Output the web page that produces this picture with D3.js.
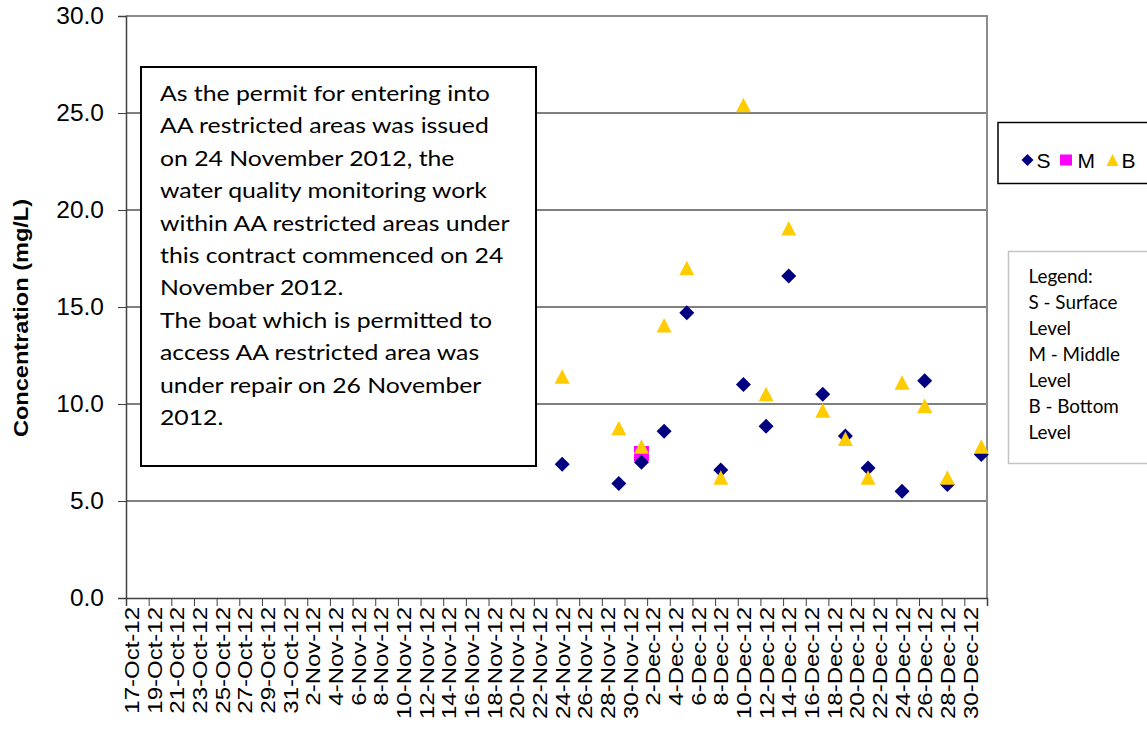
<!DOCTYPE html>
<html><head><meta charset="utf-8">
<script src="https://cdn.jsdelivr.net/npm/d3@7"></script>
<style>body{margin:0;background:#fff}svg{display:block}</style>
</head><body>
<svg id="c" width="1147" height="729"></svg>
<script>
// ---- data ----
const sampleDates = ["2012-11-24","2012-11-29","2012-12-01","2012-12-03","2012-12-05","2012-12-08","2012-12-10","2012-12-12","2012-12-14","2012-12-17","2012-12-19","2012-12-21","2012-12-24","2012-12-26","2012-12-28","2012-12-31"];
const surface = [6.9, 5.9, 7.0, 8.6, 14.7, 6.6, 11.0, 8.85, 16.6, 10.5, 8.35, 6.7, 5.5, 11.2, 5.85, 7.4];
const middle  = [null, null, 7.45, null, null, null, null, null, null, null, null, null, null, null, null, null];
const bottom  = [11.4, 8.75, 7.8, 14.05, 17.0, 6.2, 25.4, 10.5, 19.05, 9.65, 8.2, 6.2, 11.1, 9.9, 6.2, 7.8];
const xTickLabels = ["17-Oct-12","19-Oct-12","21-Oct-12","23-Oct-12","25-Oct-12","27-Oct-12","29-Oct-12","31-Oct-12","2-Nov-12","4-Nov-12","6-Nov-12","8-Nov-12","10-Nov-12","12-Nov-12","14-Nov-12","16-Nov-12","18-Nov-12","20-Nov-12","22-Nov-12","24-Nov-12","26-Nov-12","28-Nov-12","30-Nov-12","2-Dec-12","4-Dec-12","6-Dec-12","8-Dec-12","10-Dec-12","12-Dec-12","14-Dec-12","16-Dec-12","18-Dec-12","20-Dec-12","22-Dec-12","24-Dec-12","26-Dec-12","28-Dec-12","30-Dec-12",""];
const yTicks = [0, 5, 10, 15, 20, 25, 30];
const seriesNames = ["S", "M", "B"];
const seriesColors = {S: "#000080", M: "#FF00FF", B: "#FFCC00"};
const noteLines = ["As the permit for entering into","AA restricted areas was issued","on 24 November 2012, the","water quality monitoring work","within AA restricted areas under","this contract commenced on 24","November 2012.","The boat which is permitted to","access AA restricted area was","under repair on 26 November","2012."];
const legendNoteLines = ["Legend:","S - Surface","Level","M - Middle","Level","B - Bottom","Level"];

// ---- layout ----
const svg = d3.select("#c");
const L = 126, R = 987, T = 16, B = 598;
const parse = d3.timeParse("%Y-%m-%d");
const x = d3.scaleTime().domain([parse("2012-10-17"), parse("2013-01-01")]).range([L, R]);
const y = d3.scaleLinear().domain([0, 30]).range([B, T]);
const halfDay = (x(parse("2012-10-18")) - x(parse("2012-10-17"))) / 2;
const mid = d => d3.timeHour.offset(parse(d), 12);
const tickDates = d3.timeDay.range(parse("2012-10-17"), d3.timeDay.offset(parse("2013-01-01"), 1), 2);

// gridlines
svg.append("g").selectAll("line").data(yTicks.filter(v => v > 0 && v < 30)).join("line")
  .attr("x1", L).attr("x2", R).attr("y1", d => y(d)).attr("y2", d => y(d))
  .attr("stroke", "#000").attr("stroke-width", 1);
// plot border top/right
svg.append("path").attr("d", `M${L},${y(30)}H${R}V${B}`).attr("fill", "none")
  .attr("stroke", "#8c8c8c").attr("stroke-width", 2);

// y axis
const yAxis = svg.append("g").attr("transform", `translate(${L},0)`)
  .call(d3.axisLeft(y).tickValues(yTicks).tickFormat(d3.format(".1f")).tickSize(8).tickPadding(14));
yAxis.select(".domain").attr("stroke", "#404040").attr("stroke-width", 1.5);
yAxis.selectAll(".tick line").attr("stroke", "#404040");
yAxis.selectAll("text").attr("font-family", "Liberation Sans, Arial, sans-serif").attr("font-size", 24.5).attr("fill", "#000");

// x axis
const xAxis = svg.append("g").attr("transform", `translate(0,${B})`)
  .call(d3.axisBottom(x).tickValues(tickDates).tickFormat((d, i) => xTickLabels[i] || "").tickSize(8));
xAxis.select(".domain").attr("stroke", "#404040").attr("stroke-width", 1.5);
xAxis.selectAll(".tick line").attr("stroke", "#404040");
xAxis.selectAll("text")
  .attr("font-family", "Liberation Sans, Arial, sans-serif").attr("font-size", 20).attr("fill", "#000")
  .attr("x", 0).attr("y", 0).attr("dy", 0).attr("text-anchor", "end")
  .attr("transform", `translate(${halfDay + 7},9) rotate(-90) scale(1.2,1)`);

// y title
svg.append("text").attr("transform", `translate(28,318) rotate(-90) scale(1.15,1)`)
  .attr("text-anchor", "middle").attr("font-family", "Liberation Sans, Arial, sans-serif")
  .attr("font-weight", "bold").attr("font-size", 20.5).text("Concentration (mg/L)");

// note box
svg.append("rect").attr("x", 141).attr("y", 67).attr("width", 395).attr("height", 399)
  .attr("fill", "#fff").attr("stroke", "#000").attr("stroke-width", 2);
const noteG = svg.append("g").attr("transform", "translate(160,0)");
const noteT = noteG.selectAll("text").data(noteLines).join("text")
  .attr("x", 0).attr("y", (d, i) => 101 + i * 32.4)
  .attr("font-family", "Lato, sans-serif").attr("font-size", 21.5).attr("fill", "#000").text(d => d);
const w0 = noteT.nodes()[0].getComputedTextLength();
noteG.attr("transform", `translate(160,0) scale(${330 / w0},1)`);

// markers
function drawSeries(name, vals, shape) {
  const pts = sampleDates.map((d, i) => ({d, v: vals[i]})).filter(p => p.v != null);
  svg.append("g").selectAll("path").data(pts).join("path")
    .attr("d", shape)
    .attr("transform", p => `translate(${x(mid(p.d))},${y(p.v)})`)
    .attr("fill", seriesColors[name]);
}
drawSeries("M", middle, "M-7.5,-7.5H7.5V7.5H-7.5Z");
drawSeries("S", surface, "M0,-7.5L7.5,0L0,7.5L-7.5,0Z");
drawSeries("B", bottom, "M0,-7.5L7.5,7L-7.5,7Z");

// legend 1
svg.append("rect").attr("x", 998).attr("y", 122.5).attr("width", 170).attr("height", 61)
  .attr("fill", "#fff").attr("stroke", "#000").attr("stroke-width", 1.5);
const leg = [{n: "S", mx: 1027.5, tx: 1036.5, shape: "M0,-6L6,0L0,6L-6,0Z"},
             {n: "M", mx: 1066, tx: 1077.5, shape: "M-6,-5.5H6V5.5H-6Z"},
             {n: "B", mx: 1112.5, tx: 1121.5, shape: "M0,-6L6,6L-6,6Z"}];
leg.forEach(l => {
  svg.append("path").attr("d", l.shape).attr("transform", `translate(${l.mx},160)`).attr("fill", seriesColors[l.n]);
  svg.append("text").attr("x", l.tx).attr("y", 167.5).attr("font-family", "Liberation Sans, Arial, sans-serif")
    .attr("font-size", 21).attr("fill", "#000").text(l.n);
});

// legend 2 (note)
svg.append("rect").attr("x", 1008.5).attr("y", 251.5).attr("width", 160).attr("height", 212)
  .attr("fill", "#fff").attr("stroke", "#c4c4c4").attr("stroke-width", 1.5);
const lg2 = svg.append("g");
const lt = lg2.selectAll("text").data(legendNoteLines).join("text")
  .attr("x", 0).attr("y", (d, i) => 283 + i * 26)
  .attr("font-family", "Lato, sans-serif").attr("font-size", 19).attr("fill", "#000").text(d => d);
const w1 = lt.nodes()[1].getComputedTextLength();
lg2.attr("transform", `translate(1028.5,0) scale(${89 / w1},1)`);
</script>
</body></html>
